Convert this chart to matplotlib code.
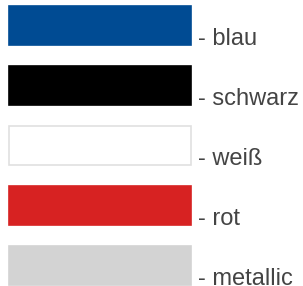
import matplotlib
matplotlib.use("Agg")
import matplotlib.pyplot as plt

names = ["blau", "schwarz", "weiß", "rot", "metallic"]
colors = ["#004b93", "#000000", "#ffffff", "#d72222", "#d3d3d3"]
edges = ["#004b93", "#000000", "#e0e0e0", "#d72222", "#d3d3d3"]

fig = plt.figure(figsize=(3.03, 2.86), dpi=100)
ax = fig.add_axes([0, 0, 1, 1])
ax.set_xlim(0, 303)
ax.set_ylim(286 / 60 - 25.5 / 60, -25.5 / 60)
ax.axis("off")

rows = list(range(len(names)))
ax.barh(rows, 182, left=8.5, height=0.64, color=colors, edgecolor=edges, linewidth=1.2)

for i, name in zip(rows, names):
    ax.text(198, i + 0.32, "- " + name, fontsize=17, color="#444444",
            family="Liberation Sans", va="baseline", ha="left")

fig.savefig("out.png", dpi=100)
